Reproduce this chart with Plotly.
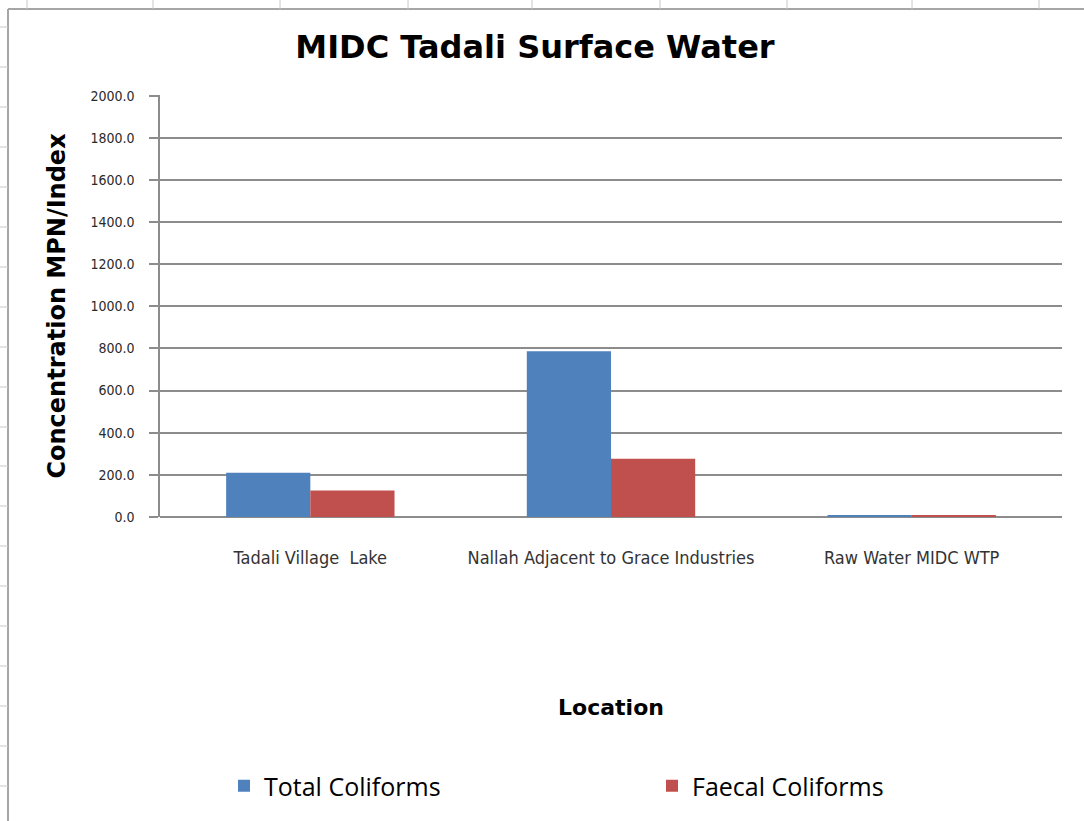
import plotly.graph_objects as go

# Sampling locations and coliform counts (MPN/100 ml)
locations = ["Tadali Village  Lake", "Nallah Adjacent to Grace Industries", "Raw Water MIDC WTP"]
total_coliforms = [210, 787, 9]
faecal_coliforms = [126, 276, 7]
y_ticks = [0, 200, 400, 600, 800, 1000, 1200, 1400, 1600, 1800, 2000]

BLUE = "#4F81BD"
RED = "#C0504D"
GRID = "#8C8C8C"
NARROW = "DejaVu Sans Condensed, DejaVu Sans, sans-serif"

W, H = 1084, 821
L, R, T, B = 160, 1062, 95, 517  # plot area in pixels


def px(x):
    return (x - L) / (R - L)


def py(y):
    return (B - y) / (B - T)


fig = go.Figure()
fig.add_trace(go.Bar(name="Total Coliforms", x=locations, y=total_coliforms,
                     marker=dict(color=BLUE, line=dict(width=0)), legend="legend"))
fig.add_trace(go.Bar(name="Faecal Coliforms", x=locations, y=faecal_coliforms,
                     marker=dict(color=RED, line=dict(width=0)), legend="legend2"))

# worksheet frame around the chart object
shapes = [
    dict(type="line", xref="paper", yref="paper", x0=px(8), x1=px(W), y0=py(9), y1=py(9),
         line=dict(color="#A6A6A6", width=2)),
    dict(type="line", xref="paper", yref="paper", x0=px(8), x1=px(8), y0=py(9), y1=py(H),
         line=dict(color="#A6A6A6", width=2)),
]
for cx in [27, 153, 280, 408, 532, 660, 787, 912, 1039]:
    shapes.append(dict(type="line", xref="paper", yref="paper", x0=px(cx), x1=px(cx),
                       y0=py(0), y1=py(9), line=dict(color="#C8C8C8", width=1)))
for ry in [27, 67, 107, 147, 187, 227, 267, 307, 347, 387, 427, 466, 506, 546,
           586, 626, 666, 706, 746, 786]:
    shapes.append(dict(type="line", xref="paper", yref="paper", x0=px(0), x1=px(8),
                       y0=py(ry), y1=py(ry), line=dict(color="#C8C8C8", width=1)))

legend_font = dict(family="Open Sans", size=25, color="#000000")

fig.update_layout(
    width=W, height=H,
    margin=dict(l=L, r=W - R, t=T, b=H - B, pad=0),
    paper_bgcolor="white", plot_bgcolor="white",
    barmode="group", bargap=0.44, bargroupgap=0,
    title=dict(text="<b>MIDC Tadali Surface Water</b>", x=535 / W, xanchor="center",
               y=1 - 47 / H, yanchor="middle",
               font=dict(family="DejaVu Sans", size=32, color="#000000")),
    xaxis=dict(
        showgrid=False, showline=False, ticks="",
        ticklabelstandoff=28,
        tickfont=dict(family=NARROW, size=18, color="#333333"),
        title=dict(text="<b>Location</b>", standoff=132,
                   font=dict(family="DejaVu Sans", size=22, color="#000000")),
    ),
    yaxis=dict(
        range=[0, 2003], tickvals=y_ticks, tickformat=".1f",
        showgrid=True, gridcolor=GRID, gridwidth=1.5,
        showline=True, linecolor=GRID, linewidth=1.5,
        ticks="outside", ticklen=9, tickcolor=GRID, tickwidth=1.5,
        ticklabelstandoff=12,
        zeroline=True, zerolinecolor=GRID, zerolinewidth=1.5,
        tickfont=dict(family=NARROW, size=14, color="#2A2A2A"),
        title=dict(text="<b>Concentration MPN/Index</b>", standoff=18,
                   font=dict(family="DejaVu Sans", size=24, color="#000000")),
    ),
    legend=dict(
        orientation="h", x=px(224), xanchor="left", y=py(786), yanchor="middle",
        font=legend_font, bgcolor="rgba(0,0,0,0)",
    ),
    legend2=dict(
        orientation="h", x=px(652), xanchor="left", y=py(786), yanchor="middle",
        font=legend_font, bgcolor="rgba(0,0,0,0)",
    ),
    shapes=shapes,
    showlegend=True,
)

fig.write_html("out.html")
